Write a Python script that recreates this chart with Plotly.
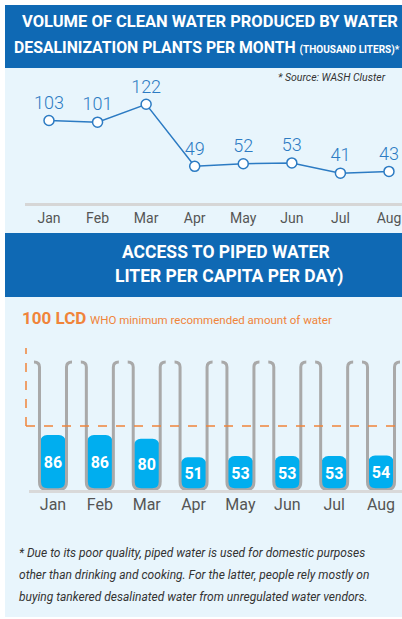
import plotly.graph_objects as go

# ---------------- data ----------------
months = ["Jan", "Feb", "Mar", "Apr", "May", "Jun", "Jul", "Aug"]
desal_volume = [103, 101, 122, 49, 52, 53, 41, 43]          # thousand liters
piped_lcd = [86, 86, 80, 51, 53, 53, 53, 54]                 # liter per capita per day
who_min_lcd = 100
tube_capacity = 200

# ---------------- styling ----------------
W, H = 402, 619
FONT = "Roboto, Liberation Sans, sans-serif"
LIGHT = "#E8F5FC"
BAND = "#0F69B4"
LINE_BLUE = "#2C7BC3"
ORANGE = "#F0843A"
GRAY_TXT = "#555555"


def px(x):
    return x / W


def py(y):
    return 1 - y / H


idx = list(range(len(months)))

fig = go.Figure()

# line chart
fig.add_trace(go.Scatter(
    x=idx, y=desal_volume, mode="lines+markers+text",
    text=[str(v) for v in desal_volume], textposition="top center",
    textfont=dict(family=FONT, size=18, color=LINE_BLUE, weight=300),
    line=dict(color=LINE_BLUE, width=1.5),
    marker=dict(size=10, color="white", line=dict(color=LINE_BLUE, width=1.5)),
    xaxis="x", yaxis="y", cliponaxis=False, hoverinfo="skip",
))

# bar chart (bars drawn downward from the value to zero so the rounded end is at the bottom)
fig.add_trace(go.Bar(
    x=idx, y=[-v for v in piped_lcd], base=piped_lcd, width=0.55,
    marker=dict(color="#00AEEF", cornerradius=7, line=dict(width=0)),
    text=[str(v) for v in piped_lcd], textposition="inside", insidetextanchor="middle",
    textangle=0,
    textfont=dict(family=FONT, size=16, color="white", weight="bold"),
    xaxis="x2", yaxis="y2", hoverinfo="skip",
))

shapes = []
# backgrounds
shapes.append(dict(type="rect", xref="paper", yref="paper", x0=px(5), x1=1,
                   y0=py(617), y1=py(68), fillcolor=LIGHT, line=dict(width=0), layer="below"))
shapes.append(dict(type="rect", xref="paper", yref="paper", x0=px(5), x1=1,
                   y0=py(68), y1=py(5), fillcolor=BAND, line=dict(width=0), layer="below"))
shapes.append(dict(type="rect", xref="paper", yref="paper", x0=px(5), x1=1,
                   y0=py(297), y1=py(233), fillcolor=BAND, line=dict(width=0), layer="below"))

# tubes
x2_range = [-0.512, 7.448]
x2_dom = [px(29), 1.0]
y2_range = [0, 234.4]
y2_dom = [py(490), py(340)]
ux = (x2_range[1] - x2_range[0]) / ((x2_dom[1] - x2_dom[0]) * W)   # units per px
uy = (y2_range[1] - y2_range[0]) / ((y2_dom[1] - y2_dom[0]) * H)
hw = 13.5 * ux
hk = 5.5 * ux
hv = 5 * uy
rx = 8 * ux
ry = 8 * uy
top = tube_capacity
bot = 0.5
for i in idx:
    c = i
    path = (f"M {c-hw-hk},{top} Q {c-hw},{top} {c-hw},{top-hv} "
            f"L {c-hw},{bot+ry} Q {c-hw},{bot} {c-hw+rx},{bot} "
            f"L {c+hw-rx},{bot} Q {c+hw},{bot} {c+hw},{bot+ry} "
            f"L {c+hw},{top-hv} Q {c+hw},{top} {c+hw+hk},{top}")
    shapes.append(dict(type="path", xref="x2", yref="y2", path=path,
                       line=dict(color="#A9A9A9", width=3), layer="above"))

# WHO minimum dashed guide
shapes.append(dict(type="line", xref="paper", yref="y2", x0=px(26), x1=1,
                   y0=who_min_lcd, y1=who_min_lcd,
                   line=dict(color=ORANGE, width=1.5, dash="dash"), layer="above"))
shapes.append(dict(type="line", xref="paper", yref="y2", x0=px(26), x1=px(26),
                   y0=who_min_lcd, y1=222,
                   line=dict(color=ORANGE, width=1.5, dash="dash"), layer="above"))

annotations = [
    dict(text="<b>VOLUME OF CLEAN WATER PRODUCED BY WATER</b>", x=px(210), y=py(22),
         font=dict(family=FONT, size=16.5, color="white")),
    dict(text="<b>DESALINIZATION PLANTS PER MONTH</b> <b><span style='font-size:10px'>(THOUSAND LITERS)*</span></b>",
         x=px(207), y=py(48), font=dict(family=FONT, size=15.8, color="white")),
    dict(text="<i>* Source: WASH Cluster</i>", x=px(388), y=py(77), xanchor="right",
         font=dict(family=FONT, size=10.5, color="#333333")),
    dict(text="<b>ACCESS TO PIPED WATER</b>", x=px(226), y=py(252),
         font=dict(family=FONT, size=17.5, color="white")),
    dict(text="<b>LITER PER CAPITA PER DAY)</b>", x=px(229), y=py(277),
         font=dict(family=FONT, size=17.5, color="white")),
    dict(text="<b>100 LCD</b>", x=px(20), y=py(318), xanchor="left",
         font=dict(family=FONT, size=17, color=ORANGE)),
    dict(text="WHO minimum recommended amount of water", x=px(88), y=py(320), xanchor="left",
         font=dict(family=FONT, size=11.5, color=ORANGE)),
    dict(text="<i>* Due to its poor quality, piped water is used for domestic purposes</i>",
         x=px(17), y=py(553), xanchor="left", font=dict(family=FONT, size=12, color="#333333")),
    dict(text="<i>other than drinking and cooking. For the latter, people rely mostly on</i>",
         x=px(17), y=py(575), xanchor="left", font=dict(family=FONT, size=12, color="#333333")),
    dict(text="<i>buying tankered desalinated water from unregulated water vendors.</i>",
         x=px(17), y=py(597), xanchor="left", font=dict(family=FONT, size=12, color="#333333")),
]
for a in annotations:
    a.update(xref="paper", yref="paper", showarrow=False, yanchor="middle")
    a.setdefault("xanchor", "center")

fig.update_layout(
    width=W, height=H, margin=dict(l=0, r=0, t=0, b=0),
    paper_bgcolor="white", plot_bgcolor="rgba(0,0,0,0)",
    showlegend=False, shapes=shapes, annotations=annotations,
    xaxis=dict(domain=[px(25), 1.0], range=[-0.494, 7.268], tickvals=idx, ticktext=months,
               showgrid=False, zeroline=False, showline=True, linecolor="#D6D6D6", linewidth=3,
               ticks="", tickfont=dict(family=FONT, size=14, color=GRAY_TXT), anchor="y"),
    yaxis=dict(domain=[py(202.7), py(80)], range=[6.2, 150.6], visible=False),
    xaxis2=dict(domain=x2_dom, range=x2_range, tickvals=idx, ticktext=months,
                showgrid=False, zeroline=False, showline=True, linecolor="#D9D9D9", linewidth=3,
                ticks="", ticklabelstandoff=-2,
                tickfont=dict(family=FONT, size=16, color=GRAY_TXT), anchor="y2"),
    yaxis2=dict(domain=y2_dom, range=y2_range, visible=False),
)

fig.write_html("out.html", config={"displayModeBar": False},
               post_script="document.body.style.margin='0';document.body.style.overflow='hidden';")
